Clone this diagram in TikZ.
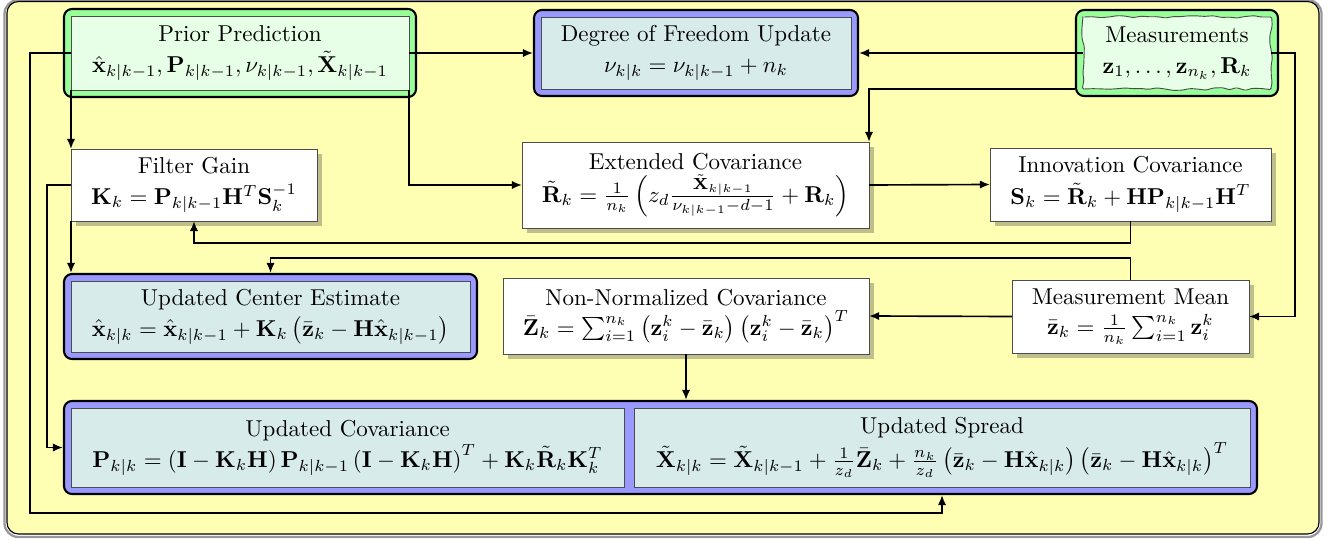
\documentclass[tikz,border=0pt]{standalone}
\usetikzlibrary{arrows.meta,calc,fit,decorations.pathmorphing}
\definecolor{bgyellow}{RGB}{255,255,180}
\definecolor{ogreen}{RGB}{153,255,153}
\definecolor{igreen}{RGB}{230,255,230}
\definecolor{oblue}{RGB}{153,153,255}
\definecolor{iblue}{RGB}{216,235,235}
\definecolor{shadowc}{RGB}{191,191,140}
\pgfdeclarelayer{bg}
\pgfdeclarelayer{mid}
\pgfdeclarelayer{midtop}
\pgfsetlayers{bg,mid,midtop,main}
\begin{document}
\begin{tikzpicture}[x=0.435pt,y=-0.435pt,
  base/.style={inner sep=0pt, outer sep=0pt, align=center},
  sz/.style 2 args={minimum width=#1*0.435pt, minimum height=#2*0.435pt},
  ibox/.style={base, draw=black!70, line width=0.4pt},
  greenin/.style={ibox, fill=igreen},
  bluein/.style={ibox, fill=iblue},
  whitebox/.style={ibox, fill=white},
  gframe/.style={draw=black, line width=0.9pt, fill=ogreen, rounded corners=3.5pt, inner sep=3.05pt},
  bframe/.style={draw=black, line width=0.9pt, fill=oblue, rounded corners=3.5pt, inner sep=3.05pt},
  conn/.style={line width=0.72pt, -{Latex[length=4.4pt,width=3.6pt]}}
]
\pgfmathsetseed{7}
\useasboundingbox (0,0) rectangle (1332,540);
\begin{pgfonlayer}{bg}
\draw[black!40, line width=1pt, rounded corners=6pt] (4.5,0) rectangle (1321.5,537);
\draw[black, line width=0.5pt, fill=bgyellow, rounded corners=5pt] (7,1.5) rectangle (1319,534);
\end{pgfonlayer}

\node[greenin, sz={338}{74}] (prior) at (240,53) {Prior Prediction\\[1.5pt] $\hat{\mathbf{x}}_{k|k-1},\mathbf{P}_{k|k-1},\nu_{k|k-1},\tilde{\mathbf{X}}_{k|k-1}$};
\node[bluein, sz={310}{72}] (dof) at (696,53) {Degree of Freedom Update\\[1.5pt] $\nu_{k|k}=\nu_{k|k-1}+n_k$};
\node[base, sz={188}{72}] (meas) at (1177,53) {Measurements\\[1.5pt] $\mathbf{z}_1,\ldots,\mathbf{z}_{n_k},\mathbf{R}_k$};
\node[whitebox, sz={246}{72}] (filter) at (194,185) {Filter Gain\\[1.5pt] $\mathbf{K}_k=\mathbf{P}_{k|k-1}\mathbf{H}^T\mathbf{S}_k^{-1}$};
\node[whitebox, sz={347}{86}] (ext) at (695.5,185) {Extended Covariance\\[1pt] $\tilde{\mathbf{R}}_k=\frac{1}{n_k}\left(z_d\frac{\tilde{\mathbf{X}}_{k|k-1}}{\nu_{k|k-1}-d-1}+\mathbf{R}_k\right)$};
\node[whitebox, sz={281}{73}] (innov) at (1130.5,184.5) {Innovation Covariance\\[1.5pt] $\mathbf{S}_k=\tilde{\mathbf{R}}_k+\mathbf{H}\mathbf{P}_{k|k-1}\mathbf{H}^T$};
\node[bluein, sz={399}{71}] (center) at (270.5,316.5) {Updated Center Estimate\\[1.5pt] $\hat{\mathbf{x}}_{k|k}=\hat{\mathbf{x}}_{k|k-1}+\mathbf{K}_k\left(\bar{\mathbf{z}}_k-\mathbf{H}\hat{\mathbf{x}}_{k|k-1}\right)$};
\node[whitebox, sz={366}{76}] (nonnorm) at (686,316) {Non-Normalized Covariance\\[1pt] $\bar{\mathbf{Z}}_k=\sum_{i=1}^{n_k}\left(\mathbf{z}_i^k-\bar{\mathbf{z}}_k\right)\left(\mathbf{z}_i^k-\bar{\mathbf{z}}_k\right)^T$};
\node[whitebox, sz={237}{73}] (mmean) at (1130.5,316.5) {Measurement Mean\\[1pt] $\bar{\mathbf{z}}_k=\frac{1}{n_k}\sum_{i=1}^{n_k}\mathbf{z}_i^k$};
\node[bluein, sz={553}{79}] (updcov) at (347.5,447.5) {Updated Covariance\\[1.5pt] $\mathbf{P}_{k|k}=\left(\mathbf{I}-\mathbf{K}_k\mathbf{H}\right)\mathbf{P}_{k|k-1}\left(\mathbf{I}-\mathbf{K}_k\mathbf{H}\right)^T+\mathbf{K}_k\tilde{\mathbf{R}}_k\mathbf{K}_k^T$};
\node[bluein, sz={616}{79}] (updspread) at (942,447.5) {Updated Spread\\[1pt] $\tilde{\mathbf{X}}_{k|k}=\tilde{\mathbf{X}}_{k|k-1}+\frac{1}{z_d}\bar{\mathbf{Z}}_k+\frac{n_k}{z_d}\left(\bar{\mathbf{z}}_k-\mathbf{H}\hat{\mathbf{x}}_{k|k}\right)\left(\bar{\mathbf{z}}_k-\mathbf{H}\hat{\mathbf{x}}_{k|k}\right)^T$};

\begin{pgfonlayer}{mid}
\node[gframe, fit=(prior)] (priorF) {};
\node[bframe, fit=(dof)] (dofF) {};
\node[gframe, fit=(meas)] (measF) {};
\node[bframe, fit=(center)] (centerF) {};
\node[bframe, fit=(updcov)(updspread)] (bottomF) {};
\foreach \n in {filter,ext,innov,nonnorm,mmean}
  \fill[shadowc] ($(\n.south west)+(5,5)$) rectangle ($(\n.north east)+(5,5)$);
\end{pgfonlayer}
\begin{pgfonlayer}{midtop}
\draw[fill=igreen, draw=black!70, line width=0.4pt, rounded corners=0.6pt,
  decorate, decoration={random steps, segment length=3.5pt, amplitude=0.6pt}]
  (meas.north west) -- (meas.north east) -- (meas.south east) -- (meas.south west) -- cycle;
\end{pgfonlayer}

\draw[conn] (prior.west) -- ++(-41,0) |- ($(updspread.south)+(0,26)$) -- (updspread.south |- bottomF.south);
\draw[conn] (prior.east) -- (dofF.west);
\draw[conn] (meas.west) -- (dofF.east);
\draw[conn] ($(measF.south west)+(0,-8)$) -| (ext.north east);
\draw[conn] (meas.east) -- ++(24,0) |- (mmean.east);
\draw[conn] (prior.south east) |- (ext.west);
\draw[conn] (prior.south west) -- (filter.north west);
\draw[conn] (filter.south west) -- (filter.south west |- centerF.north);
\draw[conn] (filter.west) -- ++(-24,0) |- (bottomF.west);
\draw[conn] (ext.east) -- (innov.west);
\draw[conn] (innov.south) -- ++(0,22) -| (filter.south);
\draw[conn] (mmean.north) -- ++(0,-22) -| (centerF.north);
\draw[conn] (mmean.west) -- (nonnorm.east);
\draw[conn] (nonnorm.south) -- (nonnorm.south |- bottomF.north);
\end{tikzpicture}
\end{document}
